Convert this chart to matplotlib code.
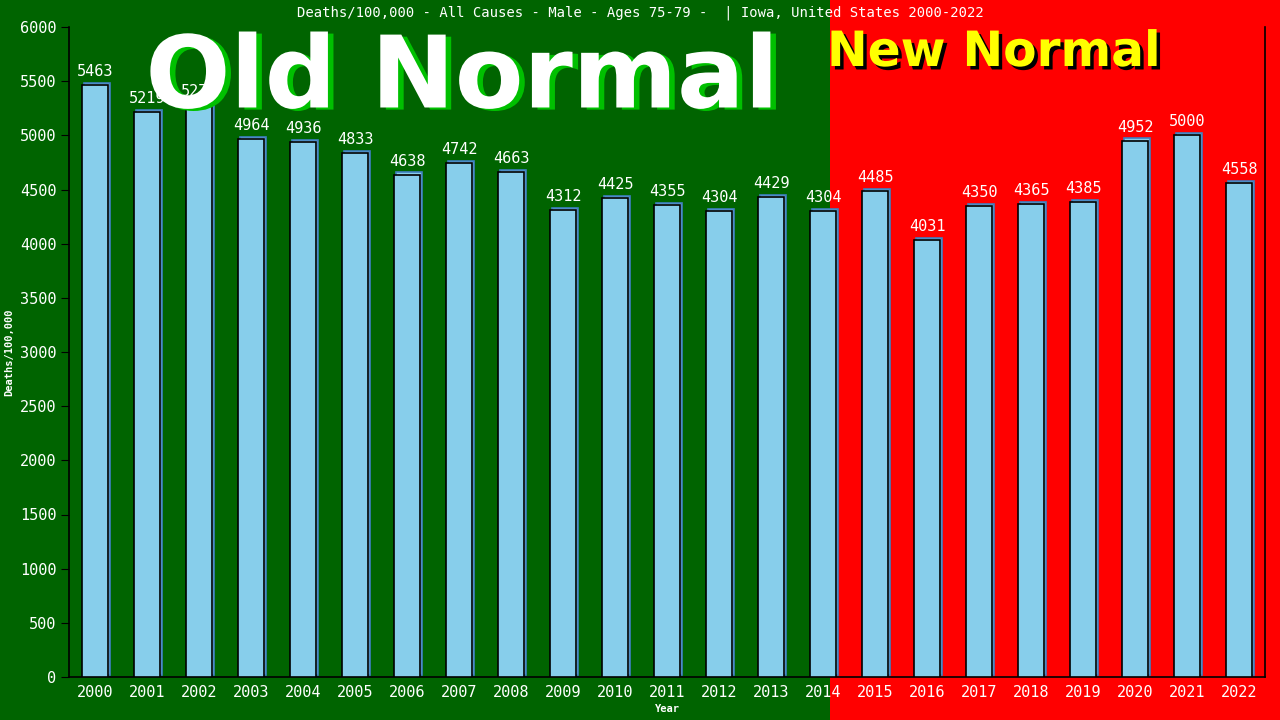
import matplotlib
matplotlib.use("Agg")
import matplotlib.pyplot as plt
import matplotlib.patheffects as pe
from matplotlib.patches import Rectangle
from matplotlib.transforms import ScaledTranslation

years = [2000, 2001, 2002, 2003, 2004, 2005, 2006, 2007, 2008, 2009, 2010, 2011,
         2012, 2013, 2014, 2015, 2016, 2017, 2018, 2019, 2020, 2021, 2022]
deaths = [5463, 5219, 5277, 4964, 4936, 4833, 4638, 4742, 4663, 4312, 4425, 4355,
          4304, 4429, 4304, 4485, 4031, 4350, 4365, 4385, 4952, 5000, 4558]
title = "Deaths/100,000 - All Causes - Male - Ages 75-79 -  | Iowa, United States 2000-2022"

mono = "DejaVu Sans Mono"
green = "#006400"
red = "#ff0000"

fig = plt.figure(figsize=(12.8, 7.2), dpi=100)
split = 830 / 1280
fig.patches.append(Rectangle((0, 0), split, 1, transform=fig.transFigure,
                             facecolor=green, edgecolor="none", zorder=-10))
fig.patches.append(Rectangle((split, 0), 1 - split, 1, transform=fig.transFigure,
                             facecolor=red, edgecolor="none", zorder=-10))

ax = fig.add_axes([69 / 1280, 1 - 677 / 720, (1265 - 69) / 1280, (677 - 27) / 720])
ax.set_facecolor("none")

x = list(range(len(years)))

# shadow bars shifted a little right and up
shadow = ax.bar(x, deaths, width=0.5, color="#87ceeb", edgecolor="#3f7fbf", linewidth=1.2, zorder=2)
for p in shadow:
    p.set_transform(ax.transData + ScaledTranslation(1.5 / 72, 1.5 / 72, fig.dpi_scale_trans))
ax.bar(x, deaths, width=0.5, color="#87ceeb", edgecolor="black", linewidth=1.2, zorder=3)

for xi, v in zip(x, deaths):
    ax.text(xi, v + 55, str(v), ha="center", va="bottom", color="white",
            fontsize=11, family=mono, zorder=5)

ax.set_xlim(-0.5, 22.5)
ax.set_ylim(0, 6000)
ax.set_yticks(range(0, 6001, 500))
ax.set_xticks(x)
ax.set_xticklabels([str(y) for y in years], family=mono, fontsize=11, color="white")
for lab in ax.get_yticklabels():
    lab.set_family(mono)
    lab.set_fontsize(11)
    lab.set_color("white")
ax.tick_params(axis="x", length=0, pad=6)
ax.tick_params(axis="y", length=6, color="black", pad=3)
ax.spines["top"].set_visible(False)
for s in ["left", "bottom", "right"]:
    ax.spines[s].set_color("black")
    ax.spines[s].set_linewidth(1.2)

ax.set_ylabel("Deaths/100,000", color="white", family=mono, fontsize=7.5, fontweight="bold", labelpad=4)
ax.set_xlabel("Year", color="white", family=mono, fontsize=7.5, fontweight="bold", labelpad=3)

fig.text(0.5, 1 - 13 / 720, title, ha="center", va="center", color="white",
         family=mono, fontsize=10)

fig.text(462 / 1280, 1 - 80 / 720, "Old Normal", ha="center", va="center", color="white",
         fontsize=72, fontweight="bold", family="DejaVu Sans",
         path_effects=[pe.withSimplePatchShadow(offset=(4, -1.5), shadow_rgbFace="#00c000", alpha=1)])
fig.text(994 / 1280, 1 - 52 / 720, "New Normal", ha="center", va="center", color="yellow",
         fontsize=35, fontweight="bold", family="DejaVu Sans",
         path_effects=[pe.withSimplePatchShadow(offset=(2.5, -2.5), shadow_rgbFace="black", alpha=1)])

fig.savefig("out.png", dpi=100)
